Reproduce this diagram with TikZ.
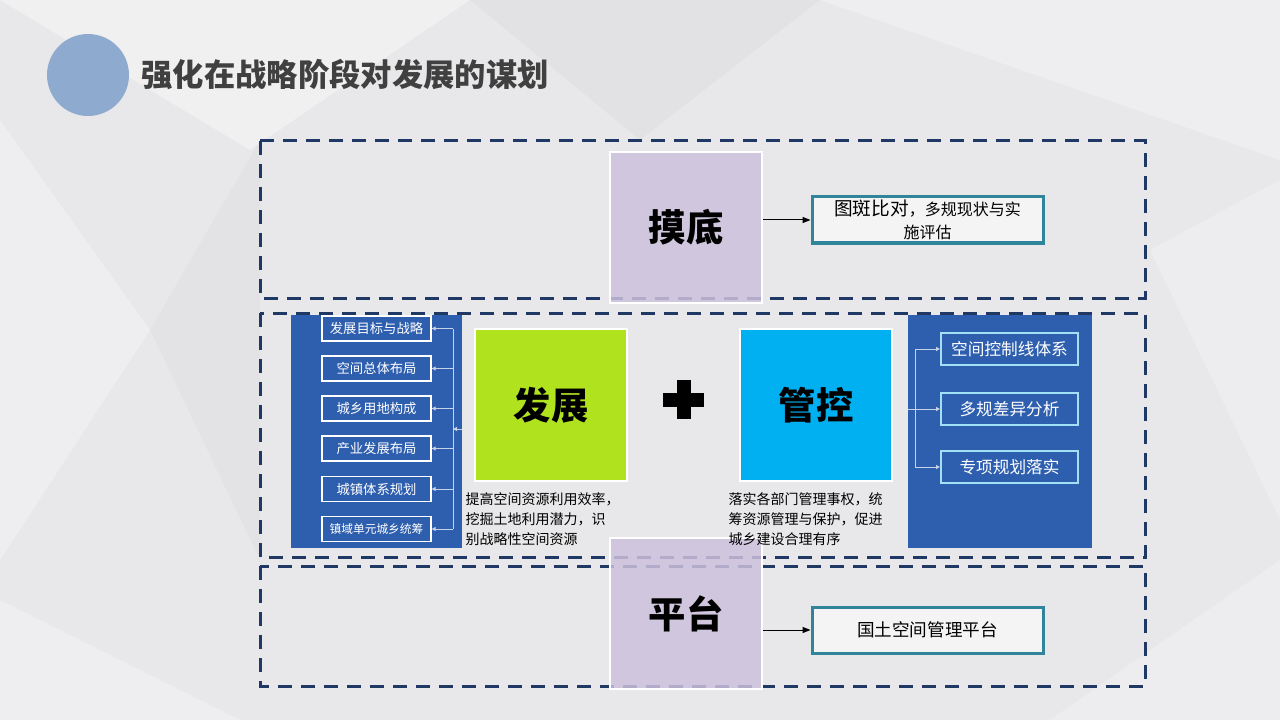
\documentclass[tikz,border=0pt]{standalone}
\usepackage{fontspec}
\setmainfont{Noto Sans CJK SC}
\usetikzlibrary{arrows.meta}

\definecolor{bggray}{RGB}{232,232,234}
\definecolor{navy}{RGB}{31,56,100}
\definecolor{lav}{RGB}{204,193,221}
\definecolor{panelblue}{RGB}{46,94,174}
\definecolor{lime}{RGB}{176,226,30}
\definecolor{sky}{RGB}{0,176,240}
\definecolor{tealline}{RGB}{49,133,155}
\definecolor{itemcyan}{RGB}{160,225,245}
\definecolor{linkgray}{RGB}{200,210,230}
\definecolor{dot}{RGB}{143,170,207}
\definecolor{titlegray}{RGB}{64,64,64}

\tikzset{every picture/.style={line width=0.75pt},
  dashframe/.style={draw=navy, line width=2.25pt, dash pattern=on 10.5pt off 6.75pt},
  lavbox/.style={fill=lav, fill opacity=0.85, text opacity=1, draw=white, line width=1pt, minimum width=114pt, minimum height=113.25pt, inner sep=0pt, font=\bfseries\fontsize{28}{32}\selectfont},
  bigbox/.style={draw=white, line width=1pt, minimum width=114pt, minimum height=114pt, inner sep=0pt, font=\bfseries\fontsize{28}{32}\selectfont},
  panel/.style={fill=panelblue, minimum height=174.75pt, inner sep=0pt},
  leftitem/.style={draw=white, line width=1pt, minimum width=81.75pt, minimum height=18.75pt, inner sep=0pt, text=white, font=\fontsize{10}{12}\selectfont},
  rightitem/.style={draw=itemcyan, line width=1.5pt, minimum width=102.75pt, minimum height=24pt, inner sep=0pt, text=white, font=\fontsize{12.5}{15}\selectfont},
  resbox/.style={draw=tealline, line width=2.25pt, fill=white, fill opacity=0.55, text opacity=1, minimum width=173.25pt, minimum height=34.5pt, inner sep=0pt, align=center},
  link/.style={draw=linkgray, -{Triangle[length=3pt,width=3pt]}},
  pointer/.style={-{Triangle[length=6pt,width=4.5pt]}},
  desc/.style={anchor=north west, inner sep=0pt, align=left, font=\fontsize{10.5}{15}\selectfont}
}

\begin{document}
\begin{tikzpicture}[x=0.75pt,y=0.75pt,yscale=-1,xscale=1]
\useasboundingbox (0,0) rectangle (1280,720);

%Background
\fill [bggray] (0,0) rectangle (1280,720);
\fill [white, opacity=0.35] (0,0) -- (470,0) -- (250,150) -- cycle;
\fill [white, opacity=0.3] (0,120) -- (150,330) -- (0,560) -- cycle;
\fill [white, opacity=0.3] (820,0) -- (1280,0) -- (1280,160) -- cycle;
\fill [white, opacity=0.25] (1150,250) -- (1280,180) -- (1280,520) -- cycle;
\fill [white, opacity=0.3] (0,600) -- (240,720) -- (0,720) -- cycle;
\fill [white, opacity=0.25] (1050,720) -- (1280,560) -- (1280,720) -- cycle;
\fill [black, opacity=0.025] (470,0) -- (820,0) -- (640,140) -- cycle;
\fill [black, opacity=0.02] (150,330) -- (260,140) -- (260,560) -- cycle;

%Shape: Circle
\fill [dot] (88,75) circle [radius=30.75pt];
% Text Node
\node (title) at (141,75) [anchor=west, inner sep=0pt, text=titlegray, font=\bfseries\fontsize{23.5}{28}\selectfont] {强化在战略阶段对发展的谋划};

%Shape: Rectangle (left panel)
\node (lpanel) at (376.5,431.5) [panel, minimum width=128.25pt] {};
% Text Node
\node (lt1) at (376.5,328.5) [leftitem] {发展目标与战略};
\node (lt2) at (376.5,368.5) [leftitem] {空间总体布局};
\node (lt3) at (376.5,408.5) [leftitem] {城乡用地构成};
\node (lt4) at (376.5,448.5) [leftitem] {产业发展布局};
\node (lt5) at (376.5,489) [leftitem] {城镇体系规划};
\node (lt6) at (376.5,529) [leftitem, font=\fontsize{8.8}{11}\selectfont] {镇域单元城乡统筹};

%Shape: Rectangle (right panel)
\node (rpanel) at (1000,431.5) [panel, minimum width=138pt] {};
% Text Node
\node (rt1) at (1009.5,349) [rightitem] {空间控制线体系};
\node (rt2) at (1009.5,409) [rightitem] {多规差异分析};
\node (rt3) at (1009.5,467) [rightitem] {专项规划落实};

%Straight Lines (left links)
\coordinate (lbus) at (453,429);
\coordinate (lin) at (462,429);
\draw [link] (lin) -- (lbus);
\draw [linkgray] (lbus |- lt1.east) -- (lbus |- lt6.east);
\draw [link] (lbus |- lt1.east) -- (lt1.east);
\draw [link] (lbus |- lt2.east) -- (lt2.east);
\draw [link] (lbus |- lt3.east) -- (lt3.east);
\draw [link] (lbus |- lt4.east) -- (lt4.east);
\draw [link] (lbus |- lt5.east) -- (lt5.east);
\draw [link] (lbus |- lt6.east) -- (lt6.east);

%Straight Lines (right links)
\coordinate (rbus) at (915,409);
\draw [linkgray] (rpanel.west |- rbus) -- (rbus);
\draw [linkgray] (rbus |- rt1.west) -- (rbus |- rt3.west);
\draw [link] (rbus |- rt1.west) -- (rt1.west);
\draw [link] (rbus |- rt2.west) -- (rt2.west);
\draw [link] (rbus |- rt3.west) -- (rt3.west);

%Shape: Rectangle (dashed frames)
\draw [dashframe] (260,141) rectangle (1145,298);
\draw [dashframe] (260,313) rectangle (1145,557);
\draw [dashframe] (260,566) rectangle (1145,686);

%Shape: Square
\node (fazhan) at (551,405) [bigbox, fill=lime] {发展};
\node (guankong) at (816,405) [bigbox, fill=sky] {管控};
%Shape: Cross
\fill [black] (663,393) rectangle (704,407);
\fill [black] (677,380) rectangle (691,419);

%Shape: Square (lavender)
\node (modi) at (686,227.5) [lavbox] {摸底};
\node (pingtai) at (686,613.5) [lavbox] {平台};

% Text Node
\node (fzdesc) at (465,492) [desc] {提高空间资源利用效率，\\挖掘土地利用潜力，识\\别战略性空间资源};
\node (gkdesc) at (728,492) [desc] {落实各部门管理事权，统\\筹资源管理与保护，促进\\城乡建设合理有序};

% Text Node
\node (mdres) at (927.5,220) [resbox, font=\fontsize{12}{17}\selectfont] {{\fontsize{14}{17}\selectfont 图斑比对}，多规现状与实\\施评估};
\node (ptres) at (927.5,630) [resbox, font=\fontsize{13.2}{16}\selectfont] {国土空间管理平台};

%Straight Lines
\draw [pointer] (modi.east |- mdres.west) -- (mdres.west);
\draw [pointer] (pingtai.east |- ptres.west) -- (ptres.west);

\end{tikzpicture}
\end{document}
